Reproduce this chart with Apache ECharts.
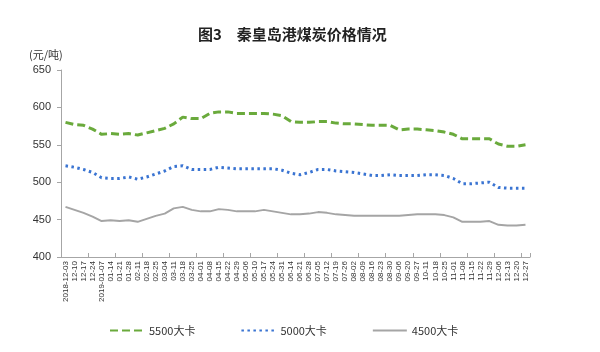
<!DOCTYPE html>
<html>
<head>
<meta charset="utf-8">
<script src="https://cdn.jsdelivr.net/npm/echarts@6/dist/echarts.min.js"></script>
<style>
  html, body { margin: 0; padding: 0; background: #fff; }
  #chart { width: 600px; height: 352px; }
</style>
</head>
<body>
<div id="chart"></div>
<script>
// 周度日期（横轴）
const dates = [
  '2018-12-03', '12-10', '12-17', '12-24', '2019-01-07', '01-14', '01-21', '01-28',
  '02-11', '02-18', '02-25', '03-04', '03-11', '03-18', '03-25', '04-01', '04-08',
  '04-15', '04-22', '04-29', '05-06', '05-10', '05-17', '05-24', '05-31', '06-14',
  '06-21', '06-28', '07-05', '07-12', '07-19', '07-26', '08-02', '08-09', '08-16',
  '08-23', '08-30', '09-06', '09-20', '09-27', '10-11', '10-18', '10-25', '11-01',
  '11-08', '11-15', '11-22', '11-29', '12-06', '12-13', '12-20', '12-27'
];

// 5500大卡
const price5500 = [
  580, 577, 576, 571, 564, 565, 564, 565, 563, 566, 569, 572, 578, 587, 585, 585, 592,
  594, 594, 592, 592, 592, 592, 591, 589, 581, 580, 580, 581, 581, 579, 578, 578, 577,
  576, 576, 576, 570, 571, 571, 570, 569, 567, 564, 558, 558, 558, 558, 551, 548, 548, 550
];

// 5000大卡
const price5000 = [
  522, 520, 517, 513, 506, 505, 505, 507, 504, 507, 511, 515, 521, 522, 517, 517, 517,
  520, 519, 518, 518, 518, 518, 518, 516, 512, 510, 513, 517, 517, 515, 514, 513, 511,
  509, 509, 510, 509, 509, 509, 510, 510, 509, 505, 498, 498, 499, 500, 493, 492, 492, 492
];

// 4500大卡
const price4500 = [
  467, 463, 459, 454, 448, 449, 448, 449, 447, 451, 455, 458, 465, 467, 463, 461, 461,
  464, 463, 461, 461, 461, 463, 461, 459, 457, 457, 458, 460, 459, 457, 456, 455, 455,
  455, 455, 455, 455, 456, 457, 457, 457, 456, 453, 447, 447, 447, 448, 443, 442, 442, 443
];

const yMin = 400, yMax = 650, yStep = 50;

const chart = echarts.init(document.getElementById('chart'));

const options = {
  backgroundColor: '#fff',
  animation: false,
  title: [
    {
      text: '图3　秦皇岛港煤炭价格情况',
      left: 193,
      top: 22,
      textStyle: { fontSize: 15, fontWeight: 'bold', color: '#222', fontFamily: 'Noto Sans CJK SC' }
    },
    {
      text: '(元/吨)',
      left: 24,
      top: 44,
      textStyle: { fontSize: 11, fontWeight: 'normal', color: '#333', fontFamily: 'Noto Sans CJK SC' }
    }
  ],
  grid: { left: 61, right: 70, top: 70, bottom: 95 },
  legend: {
    left: 104,
    top: 320,
    itemWidth: 34,
    itemHeight: 10,
    itemGap: 45,
    // 图例只画线，不画圆点
    itemStyle: { opacity: 0 },
    textStyle: { fontSize: 11, color: '#333', fontFamily: 'Noto Sans CJK SC' },
    data: ['5500大卡', '5000大卡', '4500大卡']
  },
  xAxis: {
    type: 'category',
    data: dates,
    boundaryGap: true,
    axisLine: { lineStyle: { color: '#a6a6a6', width: 1 } },
    axisTick: { show: true, inside: true, interval: 2, length: 4, lineStyle: { color: '#a6a6a6' } },
    axisLabel: {
      interval: 0,
      rotate: 90,
      fontSize: 8,
      margin: 4,
      color: '#333',
      fontFamily: 'Liberation Sans'
    }
  },
  yAxis: {
    type: 'value',
    min: yMin,
    max: yMax,
    interval: yStep,
    splitLine: { show: false },
    axisLine: { show: true, lineStyle: { color: '#a6a6a6', width: 1 } },
    axisTick: { show: true, length: 4, lineStyle: { color: '#a6a6a6' } },
    axisLabel: { fontSize: 11, color: '#333', margin: 10, fontFamily: 'Liberation Sans' }
  },
  series: [
    {
      name: '5500大卡',
      type: 'line',
      data: price5500,
      symbol: 'none',
      lineStyle: { color: '#6aaa3c', width: 3, type: [8, 4] },
      itemStyle: { color: '#6aaa3c' }
    },
    {
      name: '5000大卡',
      type: 'line',
      data: price5000,
      symbol: 'none',
      lineStyle: { color: '#3a74d2', width: 3, type: [2.5, 3.5] },
      itemStyle: { color: '#3a74d2' }
    },
    {
      name: '4500大卡',
      type: 'line',
      data: price4500,
      symbol: 'none',
      lineStyle: { color: '#a5a5a5', width: 2, type: 'solid' },
      itemStyle: { color: '#a5a5a5' }
    }
  ]
};

chart.setOption(options);
</script>
</body>
</html>
